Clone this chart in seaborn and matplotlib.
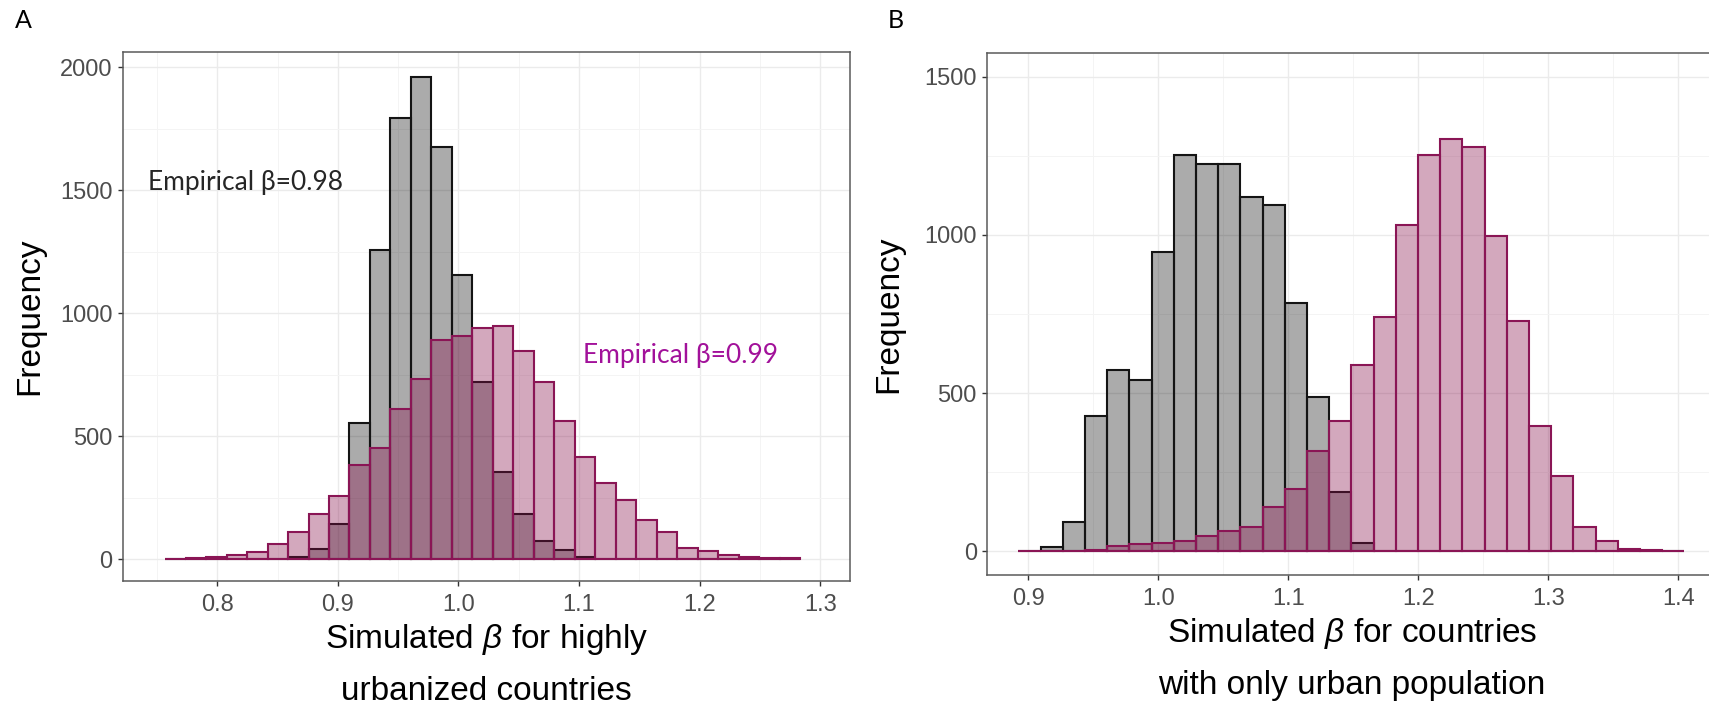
import numpy as np
import pandas as pd
import matplotlib
matplotlib.use("Agg")
import matplotlib.pyplot as plt
import seaborn as sns
from matplotlib.ticker import MultipleLocator

# ---------------- data ----------------
# Panel A: highly urbanized countries (31 shared bins)
a_bin_start = 0.7566
a_bin_width = 0.01700
a_grey = [0, 0, 0, 0, 2, 3, 10, 41, 143, 553,
          1256, 1792, 1959, 1677, 1157, 720, 353, 183, 75, 37,
          10, 2, 0, 0, 0, 0, 0, 0, 0, 0, 0]
a_pink = [3, 5, 10, 18, 31, 64, 111, 183, 258, 383,
          451, 611, 733, 893, 907, 940, 949, 846, 722, 561,
          414, 310, 240, 160, 111, 45, 34, 18, 11, 7, 5]
a_xticks = [0.8, 0.9, 1.0, 1.1, 1.2, 1.3]
a_yticks = [0, 500, 1000, 1500, 2000]

# Panel B: countries with only urban population (30 shared bins)
b_bin_start = 0.8923
b_bin_width = 0.01708
b_grey = [0, 14, 92, 428, 572, 540, 947, 1252, 1225, 1225,
          1120, 1093, 784, 489, 186, 26, 0, 0, 0, 0,
          0, 0, 0, 0, 0, 0, 0, 0, 0, 0]
b_pink = [1, 1, 2, 3, 18, 22, 26, 32, 48, 65,
          77, 140, 197, 316, 411, 589, 740, 1032, 1253, 1302,
          1277, 997, 728, 395, 237, 76, 32, 8, 4, 2]
b_xticks = [0.9, 1.0, 1.1, 1.2, 1.3, 1.4]
b_yticks = [0, 500, 1000, 1500]

# ---------------- style ----------------
sns.set_theme(style="white")
plt.rcParams['font.family'] = ['Liberation Sans', 'DejaVu Sans']
plt.rcParams['mathtext.fontset'] = 'custom'
plt.rcParams['mathtext.it'] = 'Liberation Sans:italic'
plt.rcParams['mathtext.rm'] = 'Liberation Sans'

W, H = 1709, 710
fig = plt.figure(figsize=(W / 100, H / 100), dpi=100)
fig.patch.set_facecolor('white')

GREY_FACE = (0, 0, 0, 0.33)
GREY_EDGE = '#141414'
PINK_RGB = (0.53, 0.055, 0.29)
PINK_FACE = PINK_RGB + (0.36,)
PINK_EDGE = '#8A1555'
TICK_COL = '#4D4D4D'
FRAME_COL = '#5A5A5A'


def rect(l, t, r, b):
    return [l / W, 1 - b / H, (r - l) / W, (b - t) / H]


def draw_hist(ax, start, width, counts, face, edge):
    n = len(counts)
    edges = [start + width * i for i in range(n + 1)]
    centers = [(edges[i] + edges[i + 1]) / 2 for i in range(n)]
    df = pd.DataFrame({'beta': centers, 'count': counts})
    before = len(ax.patches)
    sns.histplot(data=df, x='beta', weights='count', bins=edges, ax=ax,
                 stat='count', element='bars', fill=True)
    for p in ax.patches[before:]:
        p.set_alpha(None)
        p.set_facecolor(face)
        p.set_edgecolor(edge)
        p.set_linewidth(1.5)


def style_axes(ax, xlim, ylim, xticks, yticks, xminor, yminor):
    ax.set_xlim(*xlim)
    ax.set_ylim(*ylim)
    ax.set_xticks(xticks)
    ax.set_yticks(yticks)
    ax.set_xticklabels([f"{v:.1f}" for v in xticks])
    ax.set_yticklabels([str(v) for v in yticks])
    ax.xaxis.set_minor_locator(MultipleLocator(xminor))
    ax.yaxis.set_minor_locator(MultipleLocator(yminor))
    ax.grid(True, which='major', color='#EBEBEB', linewidth=1.0)
    ax.grid(True, which='minor', color='#F4F4F4', linewidth=0.7)
    ax.set_axisbelow(True)
    for s in ax.spines.values():
        s.set_visible(True)
        s.set_color(FRAME_COL)
        s.set_linewidth(1.1)
    ax.tick_params(axis='both', which='major', direction='out', length=3.8,
                   width=1, color='#333333', labelcolor=TICK_COL,
                   labelsize=17, bottom=True, left=True)
    ax.tick_params(axis='x', which='major', pad=5.5)
    ax.tick_params(axis='y', which='major', pad=3.5)
    ax.tick_params(axis='both', which='minor', length=0)
    ax.set_facecolor('white')


# ---------------- Panel A ----------------
axA = fig.add_axes(rect(122.7, 52, 850, 581))
draw_hist(axA, a_bin_start, a_bin_width, a_grey, GREY_FACE, GREY_EDGE)
draw_hist(axA, a_bin_start, a_bin_width, a_pink, PINK_FACE, PINK_EDGE)
style_axes(axA, (0.7215, 1.3247), (-88, 2062), a_xticks, a_yticks, 0.05, 250)
axA.set_ylabel('Frequency', fontsize=24, color='black')
axA.yaxis.label.set_va('center')
axA.yaxis.set_label_coords((30 - 122.7) / 727.3, 0.5)
axA.set_xlabel('Simulated $\\beta$ for highly\nurbanized countries',
               fontsize=24, color='black', linespacing=1.78)
axA.xaxis.label.set_va('center')
axA.xaxis.set_label_coords(0.5, -(664.5 - 581) / 529)
axA.text(0.7423, 1530, 'Empirical β=0.98', fontsize=19, family=['Lato', 'DejaVu Sans'],
         color='#262626', ha='left', va='center')
axA.text(1.1035, 829, 'Empirical β=0.99', fontsize=19, family=['Lato', 'DejaVu Sans'],
         color='#A2119A', ha='left', va='center')

# ---------------- Panel B ----------------
axB = fig.add_axes(rect(987, 53, 1717, 575))
draw_hist(axB, b_bin_start, b_bin_width, b_grey, GREY_FACE, GREY_EDGE)
draw_hist(axB, b_bin_start, b_bin_width, b_pink, PINK_FACE, PINK_EDGE)
style_axes(axB, (0.8682, 1.4298), (-75, 1575), b_xticks, b_yticks, 0.05, 250)
axB.set_ylabel('Frequency', fontsize=24, color='black')
axB.yaxis.label.set_va('center')
axB.yaxis.set_label_coords((889 - 987) / 730, 0.5)
axB.set_xlabel('Simulated $\\beta$ for countries\nwith only urban population',
               fontsize=24, color='black', linespacing=1.78)
axB.xaxis.label.set_va('center')
axB.xaxis.set_label_coords(0.5, -(658.5 - 575) / 522)

# panel letters
fig.text(23 / W, 1 - 21 / H, 'A', fontsize=18, family=['Lato', 'DejaVu Sans'],
         ha='center', va='center', color='black')
fig.text(896 / W, 1 - 21 / H, 'B', fontsize=18, family=['Lato', 'DejaVu Sans'],
         ha='center', va='center', color='black')

fig.savefig('out.png', dpi=100, facecolor='white')
